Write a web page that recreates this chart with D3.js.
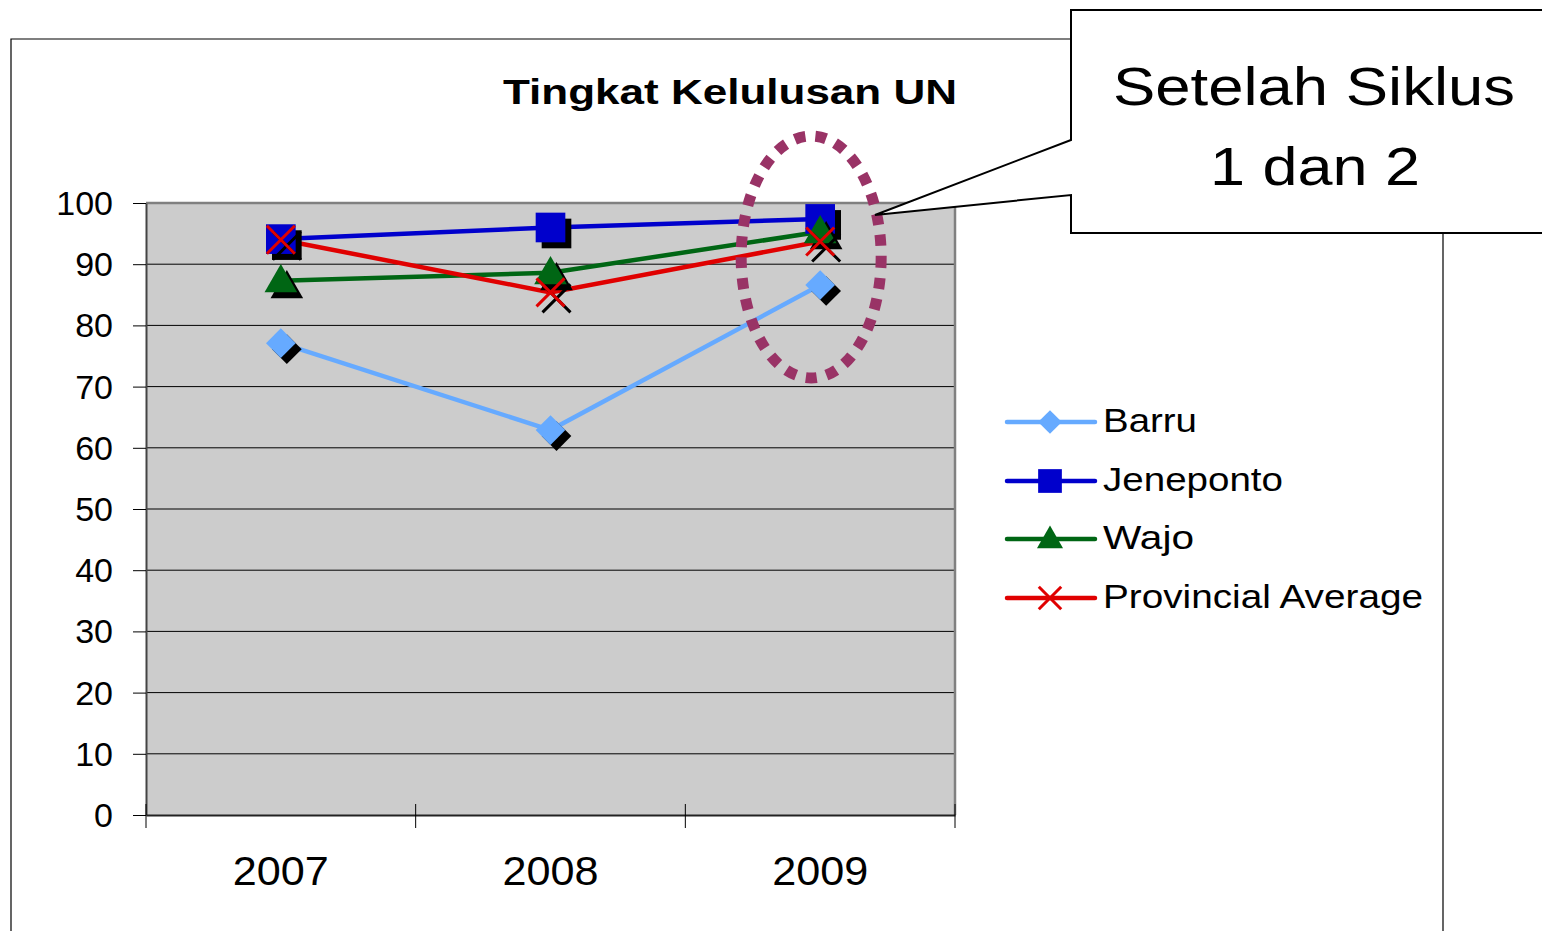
<!DOCTYPE html>
<html>
<head>
<meta charset="utf-8">
<script src="https://cdn.jsdelivr.net/npm/d3@7"></script>
<style>
  body { margin: 0; background: #fff; }
  text { font-family: "Liberation Sans", Arial, sans-serif; fill: #000; }
</style>
</head>
<body>
<div id="chart"></div>
<script>
// data
var years = ["2007", "2008", "2009"];
var seriesNames = ["Barru", "Jeneponto", "Wajo", "Provincial Average"];
var barru = [77.1, 62.9, 86.6];
var jeneponto = [94.1, 96.0, 97.4];
var wajo = [87.3, 88.6, 95.3];
var provincial = [94.0, 85.4, 93.7];
var yTicks = [0, 10, 20, 30, 40, 50, 60, 70, 80, 90, 100];

var W = 1542, H = 931;
var plot = { left: 146, right: 955, top: 203, bottom: 815 };

var svg = d3.select("#chart").append("svg")
  .attr("width", W).attr("height", H);

// outer chart frame
svg.append("path")
  .attr("d", "M11,931 L11,39 L1443,39 L1443,931")
  .attr("fill", "none").attr("stroke", "#000").attr("stroke-width", 1.2);

var x = d3.scaleBand().domain(years).range([plot.left, plot.right]).padding(0);
var y = d3.scaleLinear().domain([0, 100]).range([plot.bottom, plot.top]);

// plot area
svg.append("rect")
  .attr("x", plot.left).attr("y", plot.top)
  .attr("width", plot.right - plot.left).attr("height", plot.bottom - plot.top)
  .attr("fill", "#cccccc");

// gridlines
svg.append("g").selectAll("line")
  .data(yTicks.filter(function (d) { return d > 0 && d < 100; }))
  .enter().append("line")
  .attr("x1", plot.left).attr("x2", plot.right)
  .attr("y1", function (d) { return y(d); }).attr("y2", function (d) { return y(d); })
  .attr("stroke", "#000").attr("stroke-width", 1);

// plot border (top/right gray)
svg.append("path")
  .attr("d", "M" + plot.left + "," + plot.top + " L" + plot.right + "," + plot.top + " L" + plot.right + "," + plot.bottom)
  .attr("fill", "none").attr("stroke", "#808080").attr("stroke-width", 2.5);

// y axis
var yAxis = svg.append("g")
  .attr("transform", "translate(" + plot.left + ",0)")
  .call(d3.axisLeft(y).tickValues(yTicks).tickSize(13).tickPadding(20).tickSizeOuter(0));
yAxis.select(".domain").attr("stroke", "#444").attr("stroke-width", 2);
yAxis.selectAll(".tick line").attr("stroke", "#000");
yAxis.selectAll("text")
  .style("font-family", "Liberation Sans, Arial, sans-serif")
  .style("font-size", "34px").attr("dy", "0.34em");

// x axis
var xAxis = svg.append("g")
  .attr("transform", "translate(0," + plot.bottom + ")")
  .call(d3.axisBottom(x).tickSize(0).tickPadding(42).tickSizeOuter(0));
xAxis.select(".domain").attr("stroke", "#222").attr("stroke-width", 2);
xAxis.selectAll("text")
  .style("font-family", "Liberation Sans, Arial, sans-serif")
  .style("font-size", "40px")
  .attr("textLength", 96).attr("lengthAdjust", "spacingAndGlyphs");
var bounds = years.map(function (d) { return x(d); }).concat([plot.right]);
svg.append("g").selectAll("line").data(bounds).enter().append("line")
  .attr("x1", function (d) { return d; }).attr("x2", function (d) { return d; })
  .attr("y1", plot.bottom - 11).attr("y2", plot.bottom + 13)
  .attr("stroke", "#000").attr("stroke-width", 1);

// title
svg.append("text")
  .attr("x", 730).attr("y", 104).attr("text-anchor", "middle")
  .style("font-size", "35px").style("font-weight", "bold")
  .attr("textLength", 454).attr("lengthAdjust", "spacingAndGlyphs")
  .text("Tingkat Kelulusan UN");

// series
var series = [
  { name: seriesNames[0], values: barru, color: "#66aaff", shape: "diamond" },
  { name: seriesNames[1], values: jeneponto, color: "#0000cc", shape: "square" },
  { name: seriesNames[2], values: wajo, color: "#006614", shape: "triangle" },
  { name: seriesNames[3], values: provincial, color: "#e00000", shape: "x" }
];

function cx(i) { return x(years[i]) + x.bandwidth() / 2; }

function drawMarker(g, shape, px, py, color, scale) {
  var s = scale || 1;
  if (shape === "diamond") {
    g.append("path").attr("d", d3.symbol(d3.symbolSquare, 440 * s * s)())
      .attr("transform", "translate(" + px + "," + py + ") rotate(45)")
      .attr("fill", color);
  } else if (shape === "square") {
    g.append("path").attr("d", d3.symbol(d3.symbolSquare, 880 * s * s)())
      .attr("transform", "translate(" + px + "," + py + ")")
      .attr("fill", color);
  } else if (shape === "triangle") {
    g.append("path").attr("d", d3.symbol(d3.symbolTriangle, 460 * s * s)())
      .attr("transform", "translate(" + px + "," + (py + 2 * s) + ")")
      .attr("fill", color);
  } else {
    var r = 14 * s;
    g.append("path")
      .attr("d", "M" + (px - r) + "," + (py - r) + "L" + (px + r) + "," + (py + r) +
        "M" + (px - r) + "," + (py + r) + "L" + (px + r) + "," + (py - r))
      .attr("stroke", color).attr("stroke-width", 3).attr("fill", "none");
  }
}

var line = d3.line()
  .x(function (d, i) { return cx(i); })
  .y(function (d) { return y(d); });

var gSeries = svg.append("g");
series.forEach(function (s) {
  gSeries.append("path")
    .attr("d", line(s.values))
    .attr("fill", "none").attr("stroke", s.color).attr("stroke-width", 4.5);
});
series.forEach(function (s) {
  var gm = gSeries.append("g");
  s.values.forEach(function (v, i) {
    drawMarker(gm, s.shape, cx(i) + 6, y(v) + 6, "#000");
  });
  s.values.forEach(function (v, i) {
    drawMarker(gm, s.shape, cx(i), y(v), s.color);
  });
});

// legend
var legendRows = [422, 481, 539, 598];
var legendWidths = [94, 180, 91, 320];
var legend = svg.append("g");
series.forEach(function (s, i) {
  var ly = legendRows[i];
  legend.append("line")
    .attr("x1", 1007).attr("x2", 1095).attr("y1", ly).attr("y2", ly)
    .attr("stroke", s.color).attr("stroke-width", 4.5).attr("stroke-linecap", "round");
  drawMarker(legend, s.shape, 1050, ly, s.color, 0.8);
  legend.append("text")
    .attr("x", 1103).attr("y", ly + 10)
    .style("font-size", "33px")
    .attr("textLength", legendWidths[i]).attr("lengthAdjust", "spacingAndGlyphs")
    .text(s.name);
});

// dotted ellipse round 2009
svg.append("ellipse")
  .attr("cx", cx(2) - 9).attr("cy", 257).attr("rx", 70).attr("ry", 121)
  .attr("fill", "none").attr("stroke", "#993366").attr("stroke-width", 11)
  .attr("stroke-dasharray", "11,10");

// callout
svg.append("path")
  .attr("d", "M1071,10 L1560,10 L1560,233 L1071,233 L1071,195 L875,215 L1071,140 Z")
  .attr("fill", "#fff").attr("stroke", "#000").attr("stroke-width", 2);
svg.append("text")
  .attr("x", 1314).attr("y", 105).attr("text-anchor", "middle")
  .style("font-size", "54px")
  .attr("textLength", 402).attr("lengthAdjust", "spacingAndGlyphs")
  .text("Setelah Siklus");
svg.append("text")
  .attr("x", 1315).attr("y", 185).attr("text-anchor", "middle")
  .style("font-size", "54px")
  .attr("textLength", 210).attr("lengthAdjust", "spacingAndGlyphs")
  .text("1 dan 2");
</script>
</body>
</html>
